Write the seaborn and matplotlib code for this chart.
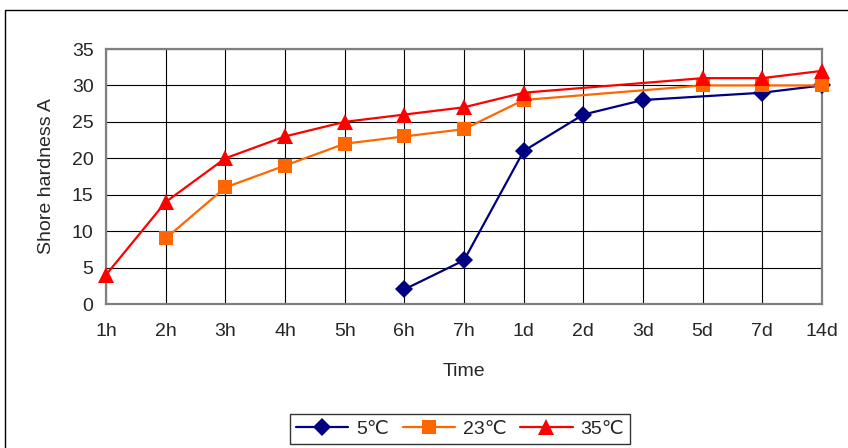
import numpy as np
import pandas as pd
import matplotlib
matplotlib.use("Agg")
import matplotlib.pyplot as plt
from matplotlib.patches import Rectangle
import seaborn as sns

# Times after mixing (category axis)
times = ['1h', '2h', '3h', '4h', '5h', '6h', '7h', '1d', '2d', '3d', '5d', '7d', '14d']

# Shore A hardness per curing temperature (nan = not measured)
hard_5 = [np.nan, np.nan, np.nan, np.nan, np.nan, 2, 6, 21, 26, 28, np.nan, 29, 30]
hard_23 = [np.nan, 9, 16, 19, 22, 23, 24, 28, np.nan, np.nan, 30, 30, 30]
hard_35 = [4, 14, 20, 23, 25, 26, 27, 29, np.nan, np.nan, 31, 31, 32]

labels = ['5℃', '23℃', '35℃']
colors = {'5℃': '#000080', '23℃': '#FF6600', '35℃': '#FF0000'}
markers = {'5℃': 'D', '23℃': 's', '35℃': '^'}
sizes = {'5℃': 9.5, '23℃': 10.5, '35℃': 11}

rows = []
for lab, vals in zip(labels, [hard_5, hard_23, hard_35]):
    for i, v in enumerate(vals):
        rows.append({'pos': i, 'hardness': v, 'temp': lab})
df = pd.DataFrame(rows).dropna()

sns.set_style("white")
plt.rcParams['font.family'] = ['Liberation Sans', 'DejaVu Sans']
fs = 14

fig = plt.figure(figsize=(8.48, 4.48), dpi=100)
ax = fig.add_axes([106 / 848, 1 - 304 / 448, (822 - 106) / 848, (304 - 49) / 448])

sns.lineplot(data=df, x='pos', y='hardness', hue='temp', style='temp',
             hue_order=labels, style_order=labels, palette=colors,
             markers=markers, dashes=False, linewidth=1.6,
             markeredgewidth=0, legend=False, ax=ax)

for line, lab in zip(ax.lines, labels):
    line.set_markersize(sizes[lab])
    line.set_clip_on(False)
    line.set_zorder(5)

ax.set_xlim(0, len(times) - 1)
ax.set_ylim(0, 35)
ax.set_xticks(range(len(times)))
ax.set_xticklabels(times)
ax.set_yticks(range(0, 36, 5))
ax.tick_params(axis='both', labelsize=fs, direction='out', length=5,
               width=1, color='#404040', pad=4)
ax.tick_params(axis='x', pad=9)

ax.grid(True, color='black', linewidth=0.8)
ax.set_axisbelow(True)
for sp in ax.spines.values():
    sp.set_color('#808080')
    sp.set_linewidth(1.6)
    sp.set_visible(True)

ax.set_xlabel('Time', fontsize=fs, labelpad=16)
ax.set_ylabel('Shore hardness A', fontsize=fs, labelpad=12)

leg = ax.legend(handles=ax.lines[:3], labels=labels, loc='center',
                bbox_to_anchor=(460 / 848, 1 - 429 / 448),
                bbox_transform=fig.transFigure, ncol=3, fontsize=fs,
                frameon=True, fancybox=False, edgecolor='black',
                handlelength=2.7, handletextpad=0.4, columnspacing=0.7,
                borderpad=0.3)
leg.get_frame().set_linewidth(1)

# outer chart border (cropped on the right and bottom)
fig.patches.append(Rectangle((5 / 848, -0.5), 2, 0.5 + 1 - 10 / 448,
                             transform=fig.transFigure, fill=False,
                             edgecolor='black', linewidth=1))

fig.savefig('out.png', dpi=100)
